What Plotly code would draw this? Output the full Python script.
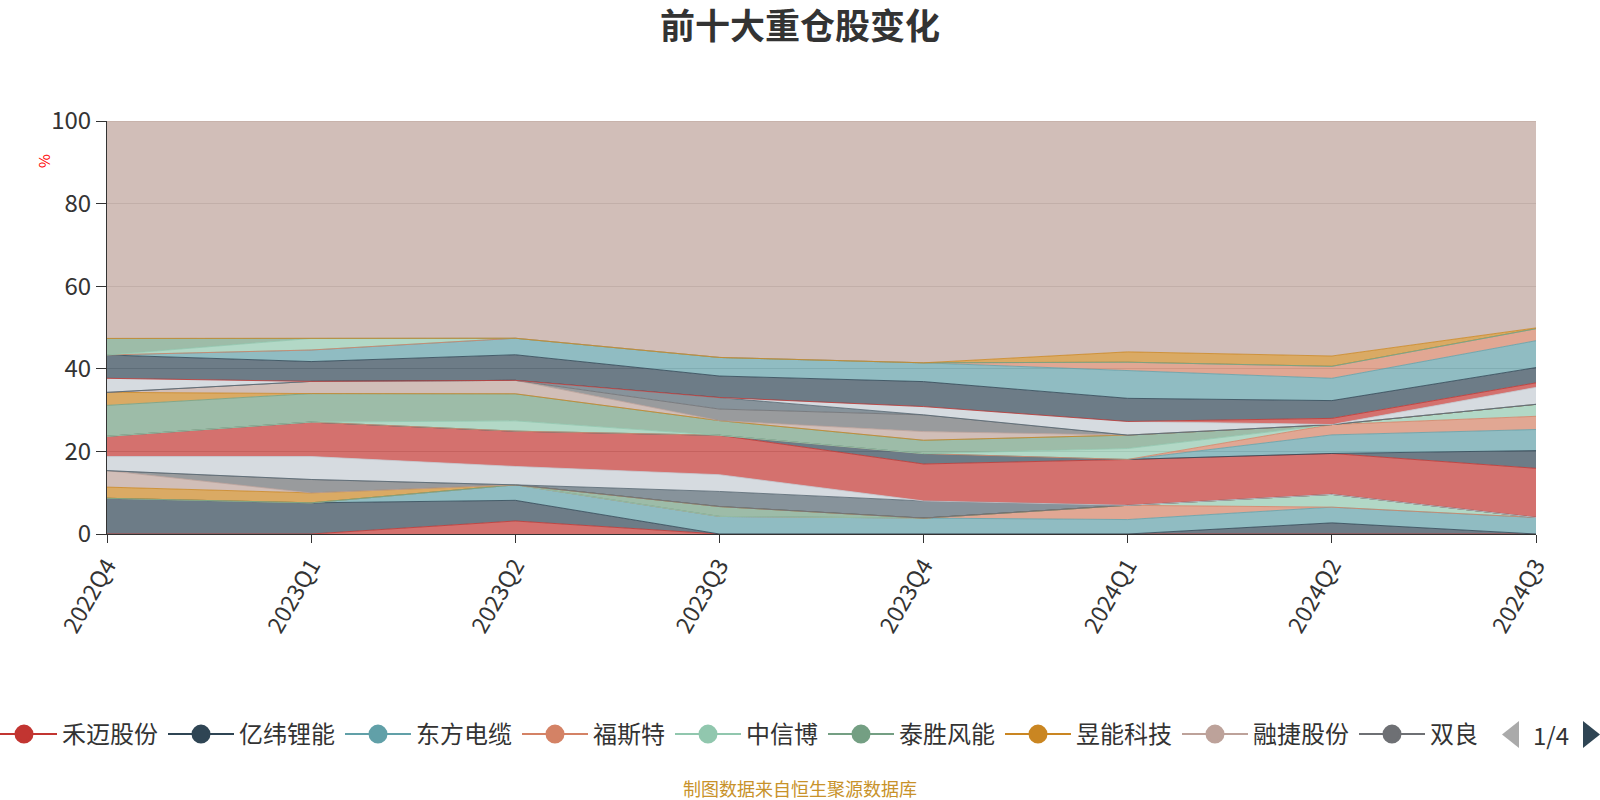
import plotly.graph_objects as go

# ---------------- data ----------------
quarters = ['2022Q4', '2023Q1', '2023Q2', '2023Q3', '2023Q4', '2024Q1', '2024Q2', '2024Q3']

series_names = [
    '禾迈股份', '亿纬锂能', '东方电缆', '福斯特', '中信博', '泰胜风能', '昱能科技', '融捷股份', '双良节能',
    '持仓10', '持仓11', '持仓12', '持仓13', '持仓14', '持仓15', '持仓16', '持仓17', '持仓18',
    '持仓19', '持仓20', '持仓21', '持仓22', '持仓23', '持仓24', '持仓25', '持仓26', '持仓27',
    '持仓28', '持仓29', '其他',
]

s00 = [0, 0, 3.15, 0, 0, 0, 0, 0]
s01 = [8.65, 7.55, 5.0, 0, 0, 0, 2.7, 0]
s02 = [0, 0, 3.75, 4.25, 3.85, 3.5, 3.8, 4.0]
s03 = [0, 0, 0, 0, 0, 3.45, 0, 0]
s04 = [0, 0, 0, 0, 0, 0, 3.1, 0]
s05 = [0, 0, 0, 2.4, 0, 0, 0, 0]
s06 = [2.7, 2.4, 0, 0, 0, 0, 0, 0]
s07 = [4.0, 0, 0, 0, 0, 0, 0, 0]
s08 = [0, 3.25, 0, 0, 0, 0, 0, 0]
s09 = [0, 0, 0, 3.65, 4.15, 0, 0, 0]
s10 = [3.4, 5.55, 4.45, 4.05, 0, 0, 0, 0]
s11 = [4.9, 8.35, 8.55, 9.55, 8.95, 11.1, 9.9, 11.9]
s12 = [0, 0, 0, 0, 2.5, 0, 0, 4.3]
s13 = [0, 0, 0, 0, 0, 0, 4.5, 5.1]
s14 = [0, 0, 0, 0, 0, 0, 2.5, 3.2]
s15 = [0, 0, 2.5, 0, 0, 2.65, 0, 2.9]
s16 = [7.5, 6.9, 6.55, 3.55, 3.25, 3.25, 0, 0]
s17 = [3.15, 0, 0, 0, 0, 0, 0, 0]
s18 = [0, 2.95, 3.25, 0, 2.1, 0, 0, 0]
s19 = [0, 0, 0, 2.8, 4.05, 0, 0, 0]
s20 = [0, 0, 0, 2.8, 0, 0, 0, 0]
s21 = [3.4, 0, 0, 0, 2.0, 3.3, 0, 4.1]
s22 = [0, 0, 0, 0, 0, 0, 1.5, 1.1]
s23 = [5.65, 4.8, 6.2, 5.2, 6.05, 5.6, 4.3, 3.7]
s24 = [0, 2.8, 4.0, 4.5, 4.55, 6.7, 5.4, 6.5]
s25 = [0, 0, 0, 0, 0, 2.05, 2.9, 2.9]
s26 = [0, 2.8, 0, 0, 0, 0, 0, 0]
s27 = [4.0, 0, 0, 0, 0, 0, 0, 0]
s28 = [0, 0, 0, 0, 0, 2.5, 2.5, 0.2]
s29 = [52.65, 52.65, 52.6, 57.25, 58.55, 55.9, 56.9, 50.1]

series_values = [s00, s01, s02, s03, s04, s05, s06, s07, s08, s09, s10, s11, s12, s13, s14,
                 s15, s16, s17, s18, s19, s20, s21, s22, s23, s24, s25, s26, s27, s28, s29]

legend_names = ['禾迈股份', '亿纬锂能', '东方电缆', '福斯特', '中信博', '泰胜风能', '昱能科技', '融捷股份', '双良']

palette = ['#c23531', '#2f4554', '#61a0a8', '#d48265', '#91c7ae', '#749f83',
           '#ca8622', '#bda29a', '#6e7074', '#546570', '#c4ccd3']

FONT = 'Noto Sans CJK SC'


def rgba(h, a):
    h = h.lstrip('#')
    return 'rgba(%d,%d,%d,%s)' % (int(h[0:2], 16), int(h[2:4], 16), int(h[4:6], 16), a)


fig = go.Figure()

for i, (nm, vals) in enumerate(zip(series_names, series_values)):
    c = palette[i % len(palette)]
    fig.add_trace(go.Scatter(
        x=quarters, y=vals, name=nm, mode='lines', stackgroup='one',
        line=dict(color=c, width=0.8), fillcolor=rgba(c, 0.7),
        legendgroup='g%d' % i, showlegend=False,
        hovertemplate='%{x}<br>' + nm + ': %{y}%<extra></extra>'))

for i, nm in enumerate(legend_names):
    c = palette[i % len(palette)]
    fig.add_trace(go.Scatter(
        x=[None], y=[None], name=nm, mode='lines+markers',
        line=dict(color=c, width=2),
        marker=dict(size=16, color=c, line=dict(color=c, width=3)),
        legendgroup='g%d' % i, showlegend=True))

# pixel -> paper helpers (plot area: x 107..1536, y 121..534)
L, R, T, B = 107, 1536, 121, 534


def px(x):
    return (x - L) / (R - L)


def py(y):
    return (B - y) / (B - T)


shapes = [
    dict(type='path', xref='paper', yref='paper',
         path='M %f %f L %f %f L %f %f Z' % (px(1502), py(734.5), px(1519), py(721), px(1519), py(748)),
         fillcolor='#aaaaaa', line=dict(width=0)),
    dict(type='path', xref='paper', yref='paper',
         path='M %f %f L %f %f L %f %f Z' % (px(1583), py(721), px(1583), py(748), px(1600), py(734.5)),
         fillcolor='#2f4554', line=dict(width=0)),
]

annotations = [
    dict(text='1/4', xref='paper', yref='paper', x=px(1551), y=py(734.5), showarrow=False,
         xanchor='center', yanchor='middle', font=dict(family=FONT, size=24, color='#333333')),
    dict(text='制图数据来自恒生聚源数据库', xref='paper', yref='paper', x=px(800), y=py(788),
         showarrow=False, xanchor='center', yanchor='middle',
         font=dict(family=FONT, size=18, color='#c8922a')),
    dict(text='%', xref='paper', yref='paper', x=px(43), y=py(161), showarrow=False,
         textangle=-90, xanchor='center', yanchor='middle',
         font=dict(family=FONT, size=15, color='#ff0000')),
]

fig.update_layout(
    width=1600, height=800,
    margin=dict(l=L, r=1600 - R, t=T, b=800 - B, pad=0, autoexpand=False),
    paper_bgcolor='white', plot_bgcolor='white',
    font=dict(family=FONT, color='#333333'),
    title=dict(text='前十大重仓股变化', x=0.5, xref='container', xanchor='center',
               y=1 - 27 / 800, yref='container', yanchor='middle',
               font=dict(family=FONT, size=35, color='#333333', weight='bold')),
    xaxis=dict(type='category', range=[0, 7], showline=True, linecolor='#333333', linewidth=1,
               ticks='outside', ticklen=8, tickcolor='#333333', tickangle=-60,
               tickfont=dict(family=FONT, size=23, color='#333333'),
               showgrid=False, zeroline=False),
    yaxis=dict(range=[0, 100], dtick=20, showline=True, linecolor='#333333', linewidth=1,
               ticks='outside', ticklen=10, tickcolor='#333333',
               tickfont=dict(family=FONT, size=24, color='#333333'),
               showgrid=True, gridcolor='#cccccc', gridwidth=1, zeroline=False),
    showlegend=True,
    legend=dict(orientation='h', xref='paper', yref='paper', x=px(-14), xanchor='left',
                y=py(734.5), yanchor='middle', itemwidth=66,
                font=dict(family=FONT, size=24, color='#333333'),
                bgcolor='rgba(0,0,0,0)', borderwidth=0),
    shapes=shapes,
    annotations=annotations,
    hovermode='closest',
)

fig.write_html('out.html', config={'displayModeBar': False},
               post_script="document.body.style.margin='0';document.body.style.overflow='hidden';")
